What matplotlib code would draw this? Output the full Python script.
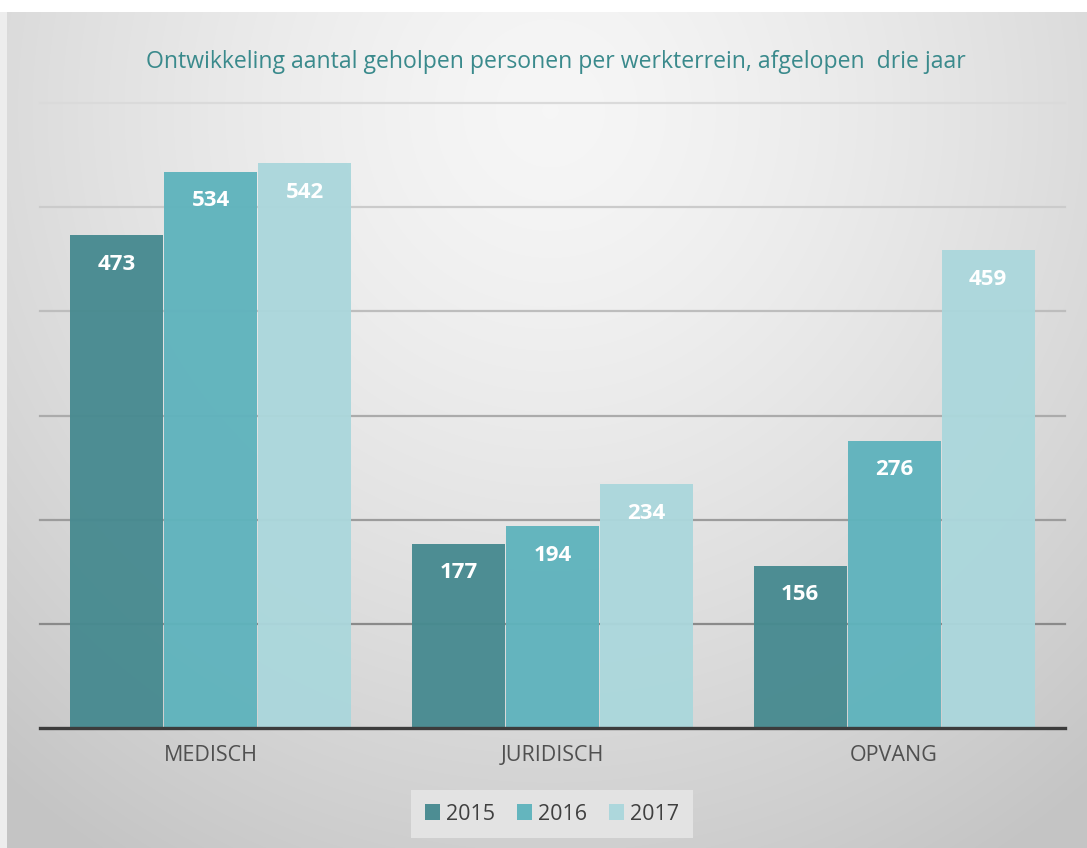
import numpy as np
import matplotlib.pyplot as plt

# Datos
categorias = ['MEDISCH', 'JURIDISCH', 'OPVANG']
jaren = ['2015', '2016', '2017']
waarden_2015 = [473, 177, 156]
waarden_2016 = [534, 194, 276]
waarden_2017 = [542, 234, 459]
yticks = [100, 200, 300, 400, 500, 600]

kleuren = ['#478a90', '#5fb3bd', '#abd7dc']
grid_kleuren = ['#8a8a8a', '#9c9c9c', '#ababab', '#bdbdbd', '#cbcbcb', '#dadada']

W, H = 1087, 848
fig = plt.figure(figsize=(W / 100, H / 100), dpi=100)
fig.patch.set_facecolor('white')

# Achtergrond met radiale gradient
bg = fig.add_axes([0, 0, 1, 1], zorder=0)
yy, xx = np.mgrid[0:H, 0:W]
dx = (xx - 550) / 700
dy = (yy - 110) / 730
d = np.sqrt(dx ** 2 + dy ** 2)
v = np.clip(0.965 - 0.15 * d ** 1.4, 0.77, 1)
img = np.dstack([v, v, v])
img[:, :7, :] = 0.93
img[:12, :, :] = 1.0
bg.imshow(img, extent=[0, W, H, 0], aspect='auto')
bg.set_xlim(0, W)
bg.set_ylim(H, 0)
bg.axis('off')

ax = fig.add_axes([40 / W, (H - 728) / H, (1065 - 40) / W, (728 - 103) / H], zorder=1)
ax.patch.set_alpha(0)

x = np.arange(len(categorias))
breedte = 0.272
stap = 0.275
reeksen = [waarden_2015, waarden_2016, waarden_2017]
for i, (waarden, kleur, jaar) in enumerate(zip(reeksen, kleuren, jaren)):
    bars = ax.bar(x + (i - 1) * stap, waarden, breedte, color=kleur, alpha=0.96,
                  label=jaar, zorder=3)
    for b, w in zip(bars, waarden):
        ax.text(b.get_x() + b.get_width() / 2, w - 28, str(w), ha='center', va='center',
                color='white', fontsize=16, fontweight='bold', family='Open Sans', zorder=4)

ax.set_xlim(-0.5, 2.5)
ax.set_ylim(0, 600)
ax.set_yticks(yticks)
ax.set_yticklabels([])
ax.tick_params(axis='y', length=0)
for yv, gk in zip(yticks, grid_kleuren):
    ax.axhline(yv, color=gk, lw=1.6, zorder=1, clip_on=False)

ax.set_xticks(x)
ax.set_xticklabels(categorias, fontsize=15.5, color='#505050', family='Open Sans')
ax.tick_params(axis='x', length=0, pad=12)
for s in ['top', 'right', 'left']:
    ax.spines[s].set_visible(False)
ax.spines['bottom'].set_color('#3c3c3c')
ax.spines['bottom'].set_linewidth(2.4)
ax.spines['bottom'].set_zorder(5)

fig.text(556 / W, (H - 62) / H, 'Ontwikkeling aantal geholpen personen per werkterrein, afgelopen  drie jaar',
         ha='center', va='center', fontsize=16.6, color='#3a8a8c', family='Open Sans')

leg = fig.legend(loc='center', bbox_to_anchor=(552 / W, (H - 814) / H), ncol=3, frameon=True,
                 handlelength=0.7, handleheight=0.7, handletextpad=0.3,
                 columnspacing=1.0, borderpad=0.35, prop={'family': 'Open Sans', 'size': 15.5})
leg.get_frame().set_facecolor('#e3e3e3')
leg.get_frame().set_edgecolor('none')
leg.get_frame().set_alpha(1)
leg.get_frame().set_boxstyle('square', pad=0.3)
for t in leg.get_texts():
    t.set_color('#404040')

fig.savefig('out.png', dpi=100)
